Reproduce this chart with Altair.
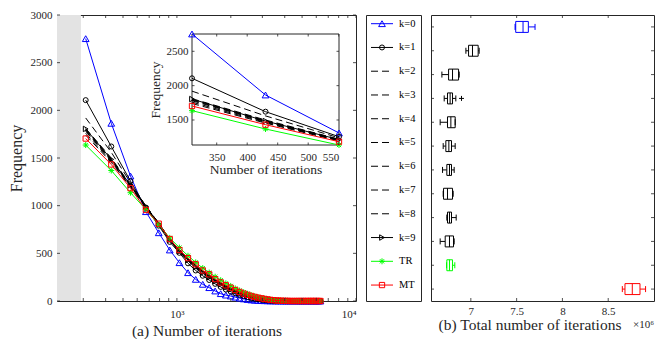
import altair as alt
import pandas as pd

FONT = "Liberation Serif"
AX = "#262626"

# ---------------- data ----------------
iters = [309.5, 430, 550.5, 671, 791.5, 912, 1032.5, 1153, 1273.5, 1394, 1514.5, 1635, 1755.5,
         1876, 1996.5, 2117, 2237.5, 2358, 2478.5, 2599, 2719.5, 2840, 2960.5, 3081, 3201.5, 3322,
         3442.5, 3563, 3683.5, 3804, 3924.5, 4045, 4165.5, 4286, 4406.5, 4527, 4647.5, 4768, 4888.5,
         5009, 5129.5, 5250, 5370.5, 5491, 5611.5, 5732, 5852.5, 5973, 6093.5, 6214, 6334.5]

names = ["k=0", "k=1", "k=2", "k=3", "k=4", "k=5", "k=6", "k=7", "k=8", "k=9", "TR", "MT"]

freq = {
    "k=0": [2752, 1864, 1311, 937, 716, 535, 402, 297, 227, 175, 140, 105, 77, 62, 52, 40, 30, 22, 16, 11,
            8, 6, 4, 3, 2, 1, 1, 0, 0, 0, 0, 0, 0, 0, 0, 0, 0, 0, 0, 0, 0, 0, 0, 0, 0, 0, 0, 0, 0, 0, 0],
    "k=1": [2107, 1621, 1257, 980, 790, 620, 505, 395, 320, 265, 220, 180, 148, 120, 98, 80, 64, 51, 41, 32,
            25, 19, 14, 10, 7, 5, 3, 2, 1, 1, 0, 0, 0, 0, 0, 0, 0, 0, 0, 0, 0, 0, 0, 0, 0, 0, 0, 0, 0, 0, 0],
    "k=2": [1920, 1560, 1240, 995, 805, 635, 515, 420, 345, 285, 240, 200, 165, 137, 112, 92, 75, 60, 48, 38,
            30, 23, 17, 12, 9, 6, 4, 3, 2, 1, 1, 0, 0, 0, 0, 0, 0, 0, 0, 0, 0, 0, 0, 0, 0, 0, 0, 0, 0, 0, 0],
    "k=3": [1810, 1500, 1220, 1000, 815, 645, 525, 430, 360, 300, 255, 213, 178, 148, 123, 101, 83, 67, 54, 43,
            34, 26, 20, 15, 11, 8, 5, 3, 2, 1, 1, 0, 0, 0, 0, 0, 0, 0, 0, 0, 0, 0, 0, 0, 0, 0, 0, 0, 0, 0, 0],
    "k=4": [1800, 1490, 1215, 995, 812, 642, 522, 435, 362, 302, 258, 216, 181, 151, 126, 104, 85, 69, 56, 45,
            35, 27, 21, 16, 11, 8, 6, 4, 2, 1, 1, 0, 0, 0, 0, 0, 0, 0, 0, 0, 0, 0, 0, 0, 0, 0, 0, 0, 0, 0, 0],
    "k=5": [1790, 1480, 1210, 990, 818, 646, 528, 438, 366, 306, 262, 219, 183, 153, 128, 106, 87, 71, 57, 46,
            36, 28, 22, 16, 12, 8, 6, 4, 2, 1, 1, 0, 0, 0, 0, 0, 0, 0, 0, 0, 0, 0, 0, 0, 0, 0, 0, 0, 0, 0, 0],
    "k=6": [1780, 1475, 1205, 992, 815, 648, 530, 440, 368, 308, 264, 221, 186, 155, 130, 108, 88, 72, 58, 47,
            37, 29, 22, 17, 12, 9, 6, 4, 3, 2, 1, 0, 0, 0, 0, 0, 0, 0, 0, 0, 0, 0, 0, 0, 0, 0, 0, 0, 0, 0, 0],
    "k=7": [1760, 1465, 1200, 985, 812, 650, 532, 443, 372, 311, 267, 224, 189, 158, 132, 110, 90, 74, 60, 48,
            38, 30, 23, 17, 13, 9, 6, 4, 3, 2, 1, 0, 0, 0, 0, 0, 0, 0, 0, 0, 0, 0, 0, 0, 0, 0, 0, 0, 0, 0, 0],
    "k=8": [1740, 1455, 1195, 980, 810, 650, 534, 446, 375, 314, 270, 227, 191, 160, 134, 112, 92, 75, 61, 49,
            39, 31, 24, 18, 13, 9, 6, 4, 3, 2, 1, 0, 0, 0, 0, 0, 0, 0, 0, 0, 0, 0, 0, 0, 0, 0, 0, 0, 0, 0, 0],
    "k=9": [1805, 1485, 1215, 990, 808, 640, 520, 428, 355, 296, 250, 209, 174, 145, 120, 99, 81, 65, 52, 42,
            33, 25, 19, 14, 10, 7, 5, 3, 2, 1, 1, 0, 0, 0, 0, 0, 0, 0, 0, 0, 0, 0, 0, 0, 0, 0, 0, 0, 0, 0, 0],
    "TR":  [1636, 1369, 1136, 960, 800, 662, 560, 475, 405, 345, 298, 255, 218, 185, 158, 132, 110, 92, 76, 62,
            50, 40, 32, 25, 19, 14, 10, 7, 5, 3, 2, 1, 1, 0, 0, 0, 0, 0, 0, 0, 0, 0, 0, 0, 0, 0, 0, 0, 0, 0, 0],
    "MT":  [1704, 1432, 1184, 955, 811, 650, 535, 450, 385, 320, 280, 230, 195, 165, 140, 115, 95, 78, 65, 53,
            43, 35, 28, 22, 17, 12, 9, 6, 4, 3, 2, 1, 1, 0, 0, 0, 0, 0, 0, 0, 0, 0, 0, 0, 0, 0, 0, 0, 0, 0, 0],
}
for _n in names:
    assert len(freq[_n]) == len(iters), _n

shade = [214, 291]                     # grey band on the x axis
x_minor_ticks = [300, 400, 500, 600, 700, 800, 900, 1000, 2000, 3000, 4000, 5000, 6000, 7000, 8000, 9000, 10000]
y_ticks = [0, 500, 1000, 1500, 2000, 2500, 3000]
inset_x_ticks = [350, 400, 450, 500, 550]
inset_y_ticks = [1500, 2000, 2500]

# box plot statistics (x 10^6)
box_lo  = [7.483, 6.946, 6.684, 6.709, 6.665, 6.698, 6.691, 6.698, 6.738, 6.665, 6.735, 8.654]
box_q1  = [7.490, 6.975, 6.757, 6.745, 6.745, 6.727, 6.738, 6.702, 6.745, 6.720, 6.738, 8.683]
box_med = [7.570, 7.018, 6.800, 6.774, 6.782, 6.760, 6.767, 6.745, 6.767, 6.767, 6.767, 8.763]
box_q3  = [7.628, 7.080, 6.866, 6.800, 6.829, 6.789, 6.789, 6.800, 6.789, 6.811, 6.800, 8.847]
box_hi  = [7.701, 7.091, 6.873, 6.836, 6.829, 6.829, 6.818, 6.807, 6.840, 6.818, 6.825, 8.908]
outliers = [("k=3", 6.898)]
box_x_ticks = [7, 7.5, 8, 8.5]

# ---------------- styles ----------------
BLUE, BLACK, GREEN, RED = "#0000ff", "#000000", "#00ff00", "#ff0000"
ASTER = "M0,-1L0,1M-1,0L1,0M-0.7,-0.7L0.7,0.7M-0.7,0.7L0.7,-0.7"
DASH = [7, 4]
STYLE = {
    "k=0": (BLUE, None, "triangle-up", 45),
    "k=1": (BLACK, None, "circle", 25),
    "k=2": (BLACK, DASH, None, 0),
    "k=3": (BLACK, DASH, None, 0),
    "k=4": (BLACK, DASH, None, 0),
    "k=5": (BLACK, DASH, None, 0),
    "k=6": (BLACK, DASH, None, 0),
    "k=7": (BLACK, DASH, None, 0),
    "k=8": (BLACK, DASH, None, 0),
    "k=9": (BLACK, None, "triangle-right", 30),
    "TR": (GREEN, None, ASTER, 36),
    "MT": (RED, None, "square", 28),
}
colors = [STYLE[n][0] for n in names]

W, H = 299, 286
LW = 55
RW = 223
BOX_HALF = 0.23   # half box height in row units

LBL = dict(labelFont=FONT, titleFont=FONT, labelColor=AX, titleColor=AX, titleFontWeight="normal",
           grid=False, ticks=False, tickSize=0, domain=False)

rows = []
for n in names:
    for xv, yv in zip(iters, freq[n]):
        rows.append({"series": n, "x": xv, "y": yv})
df = pd.DataFrame(rows)
df_in = df[df["x"] <= 551]


def series_layers(data, X, Y):
    out = []
    for n in names:
        col, dash, shape, size = STYLE[n]
        d = data[data["series"] == n]
        kw = dict(stroke=col, strokeWidth=1)
        if dash:
            kw["strokeDash"] = dash
        out.append(alt.Chart(d).mark_line(**kw).encode(x=X, y=Y))
        if shape:
            out.append(alt.Chart(d).mark_point(shape=shape, size=size, filled=False, stroke=col,
                                               strokeWidth=1, opacity=1).encode(x=X, y=Y))
    return out


# ---------------- left panel: main ----------------
xs = alt.Scale(type="log", domain=[214, 10000], nice=False)
ys = alt.Scale(domain=[0, 3000], nice=False, zero=False)
xaxis = alt.Axis(values=[1000, 10000], labelExpr="datum.value == 1000 ? '10³' : '10⁴'",
                 title="(a) Number of iterations", labelFontSize=11, titleFontSize=15.5,
                 labelPadding=7.5, titleY=34, titleBaseline="alphabetic", orient="bottom", **LBL)
yaxis = alt.Axis(values=y_ticks, format="d", title="Frequency", labelFontSize=11, titleFontSize=16,
                 labelPadding=5, titleX=-35.5, titleBaseline="alphabetic", orient="left", **LBL)
XM = alt.X("x:Q", scale=xs, axis=xaxis)
YM = alt.Y("y:Q", scale=ys, axis=yaxis)

gray = alt.Chart(pd.DataFrame({"x": [shade[0]], "x2": [shade[1]]})).mark_rect(color="#e3e3e3").encode(
    x=XM, x2="x2:Q", y=alt.value(0), y2=alt.value(H))
dfxt = pd.DataFrame({"x": x_minor_ticks})
dfyt = pd.DataFrame({"y": y_ticks})
tick_b = alt.Chart(dfxt).mark_rule(color=AX, strokeWidth=0.8).encode(x=XM, y=alt.value(H), y2=alt.value(H - 3))
tick_t = alt.Chart(dfxt).mark_rule(color=AX, strokeWidth=0.8).encode(x=XM, y=alt.value(0), y2=alt.value(3))
tick_l = alt.Chart(dfyt).mark_rule(color=AX, strokeWidth=0.8).encode(y=YM, x=alt.value(0), x2=alt.value(3))
tick_r = alt.Chart(dfyt).mark_rule(color=AX, strokeWidth=0.8).encode(y=YM, x=alt.value(W), x2=alt.value(W - 3))

main = alt.layer(gray, *series_layers(df, XM, YM), tick_b, tick_t, tick_l, tick_r)

# ---------------- left panel: inset ----------------
IL, IR, IT, IB = 135, 282, 19, 130
xs_in = alt.Scale(domain=[309.5, 550.5], range=[IL, IR], nice=False, zero=False)
ys_in = alt.Scale(domain=[1136, 2752], range=[IB, IT], nice=False, zero=False)
XI = alt.X("x:Q", scale=xs_in, axis=alt.Axis(values=inset_x_ticks, format="d", orient="bottom",
                                              offset=-(H - IB), title="Number of iterations",
                                              labelFontSize=11, titleFontSize=13.5, labelPadding=6,
                                              titleY=28, titleBaseline="alphabetic", **LBL))
YI = alt.Y("y:Q", scale=ys_in, axis=alt.Axis(values=inset_y_ticks, format="d", orient="left", offset=-IL,
                                              title="Frequency", labelFontSize=11, titleFontSize=13.5,
                                              labelPadding=4, titleX=-32.5, titleBaseline="alphabetic", **LBL))
frame = alt.Chart(pd.DataFrame({"x": [309.5], "x2": [550.5], "y": [1136], "y2": [2752]})).mark_rect(
    fill="white", stroke=AX, strokeWidth=1).encode(x=XI, x2="x2:Q", y=YI, y2="y2:Q")
dixt = pd.DataFrame({"x": inset_x_ticks})
diyt = pd.DataFrame({"y": inset_y_ticks})
it_b = alt.Chart(dixt).mark_rule(color=AX, strokeWidth=0.8).encode(x=XI, y=alt.value(IB), y2=alt.value(IB - 2.5))
it_t = alt.Chart(dixt).mark_rule(color=AX, strokeWidth=0.8).encode(x=XI, y=alt.value(IT), y2=alt.value(IT + 2.5))
it_l = alt.Chart(diyt).mark_rule(color=AX, strokeWidth=0.8).encode(y=YI, x=alt.value(IL), x2=alt.value(IL + 2.5))
it_r = alt.Chart(diyt).mark_rule(color=AX, strokeWidth=0.8).encode(y=YI, x=alt.value(IR), x2=alt.value(IR - 2.5))
inset = alt.layer(frame, *series_layers(df_in, XI, YI), it_b, it_t, it_l, it_r)

left = alt.layer(main, inset).resolve_scale(x="independent", y="independent").resolve_axis(
    x="independent", y="independent").properties(width=W, height=H)

# ---------------- legend panel ----------------
leg = pd.DataFrame({"series": names, "idx": list(range(len(names))), "label": names})
YL = alt.Y("idx:Q", scale=alt.Scale(domain=[-0.366, 11.671], reverse=True, nice=False, zero=False), axis=None)
leg_layers = []
for n in names:
    col, dash, shape, size = STYLE[n]
    d = leg[leg["series"] == n]
    kw = dict(color=col, strokeWidth=1)
    if dash:
        kw["strokeDash"] = DASH
    leg_layers.append(alt.Chart(d).mark_rule(**kw).encode(x=alt.value(5), x2=alt.value(27), y=YL))
    if shape:
        leg_layers.append(alt.Chart(d).mark_point(shape=shape, size=size, filled=False, stroke=col,
                                                  strokeWidth=1, opacity=1).encode(x=alt.value(16), y=YL))
leg_layers.append(alt.Chart(leg).mark_text(align="left", baseline="middle", fontSize=10.5, font=FONT,
                                           color="#000000").encode(x=alt.value(33), y=YL, text="label:N"))
legend = alt.layer(*leg_layers).properties(width=LW, height=H)

# ---------------- right panel: box plots ----------------
bx = pd.DataFrame({"name": names, "r": list(range(1, len(names) + 1)), "lo": box_lo, "q1": box_q1,
                   "med": box_med, "q3": box_q3, "hi": box_hi})
xs_r = alt.Scale(domain=[6.565, 9.0], nice=False, zero=False)
ys_r = alt.Scale(domain=[0.5, 12.5], reverse=True, nice=False, zero=False)
xaxis_r = alt.Axis(values=box_x_ticks, format="~g", title="(b) Total number of iterations",
                   labelFontSize=11, titleFontSize=15.5, labelPadding=4.5, titleX=98.5, titleY=28,
                   titleBaseline="alphabetic", orient="bottom", **LBL)


def XR(f):
    return alt.X(f, scale=xs_r, axis=xaxis_r)


YR = alt.Y("r:Q", scale=ys_r, axis=None)
CR = alt.Color("name:N", scale=alt.Scale(domain=names, range=colors), legend=None)
SR = alt.Stroke("name:N", scale=alt.Scale(domain=names, range=colors), legend=None)

wl = alt.Chart(bx).mark_rule(strokeWidth=1).encode(x=XR("lo:Q"), x2="q1:Q", y=YR, color=CR)
wh = alt.Chart(bx).mark_rule(strokeWidth=1).encode(x=XR("q3:Q"), x2="hi:Q", y=YR, color=CR)
boxes = alt.Chart(bx).transform_calculate(
    rlo=f"datum.r - {BOX_HALF}", rhi=f"datum.r + {BOX_HALF}"
).mark_rect(fill="white", strokeWidth=1).encode(
    x=XR("q1:Q"), x2="q3:Q", y=alt.Y("rlo:Q", scale=ys_r, axis=None), y2="rhi:Q", stroke=SR)
VLINE = "M0,-1L0,1"
meds = alt.Chart(bx).mark_point(shape=VLINE, size=121, filled=False, strokeWidth=1, opacity=1).encode(
    x=XR("med:Q"), y=YR, color=CR)
cap_l = alt.Chart(bx).mark_point(shape=VLINE, size=36, filled=False, strokeWidth=1, opacity=1).encode(
    x=XR("lo:Q"), y=YR, color=CR)
cap_h = alt.Chart(bx).mark_point(shape=VLINE, size=36, filled=False, strokeWidth=1, opacity=1).encode(
    x=XR("hi:Q"), y=YR, color=CR)
od = pd.DataFrame({"name": [o[0] for o in outliers], "r": [names.index(o[0]) + 1 for o in outliers],
                   "o": [o[1] for o in outliers]})
outl = alt.Chart(od).mark_point(shape="M-1,0L1,0M0,-1L0,1", size=25, filled=False, strokeWidth=1,
                                opacity=1).encode(x=XR("o:Q"), y=YR, color=CR)
drxt = pd.DataFrame({"t": box_x_ticks})
dryt = pd.DataFrame({"r": list(range(1, len(names) + 1))})
rt_b = alt.Chart(drxt).mark_rule(color=AX, strokeWidth=0.8).encode(x=XR("t:Q"), y=alt.value(H), y2=alt.value(H - 3))
rt_t = alt.Chart(drxt).mark_rule(color=AX, strokeWidth=0.8).encode(x=XR("t:Q"), y=alt.value(0), y2=alt.value(3))
rt_l = alt.Chart(dryt).mark_rule(color=AX, strokeWidth=0.8).encode(y=YR, x=alt.value(0), x2=alt.value(3))
rt_r = alt.Chart(dryt).mark_rule(color=AX, strokeWidth=0.8).encode(y=YR, x=alt.value(RW), x2=alt.value(RW - 3))
mult = alt.Chart(pd.DataFrame({"t": ["×10⁶"]})).mark_text(align="right", baseline="alphabetic", fontSize=11,
                                                         font=FONT, color=AX).encode(
    x=alt.value(RW), y=alt.value(H + 27), text="t:N")

right = alt.layer(wl, wh, boxes, meds, cap_l, cap_h, outl, rt_b, rt_t, rt_l, rt_r, mult).properties(width=RW, height=H)

chart = alt.hconcat(left, legend, right, spacing=10, bounds="flush",
                    padding={"left": 0, "top": 0, "right": 0, "bottom": 0}).configure(
    font=FONT).configure_view(stroke=AX, strokeWidth=1).configure_axis(**LBL)

chart.save("out.html", embed_options={"renderer": "svg", "actions": False})
